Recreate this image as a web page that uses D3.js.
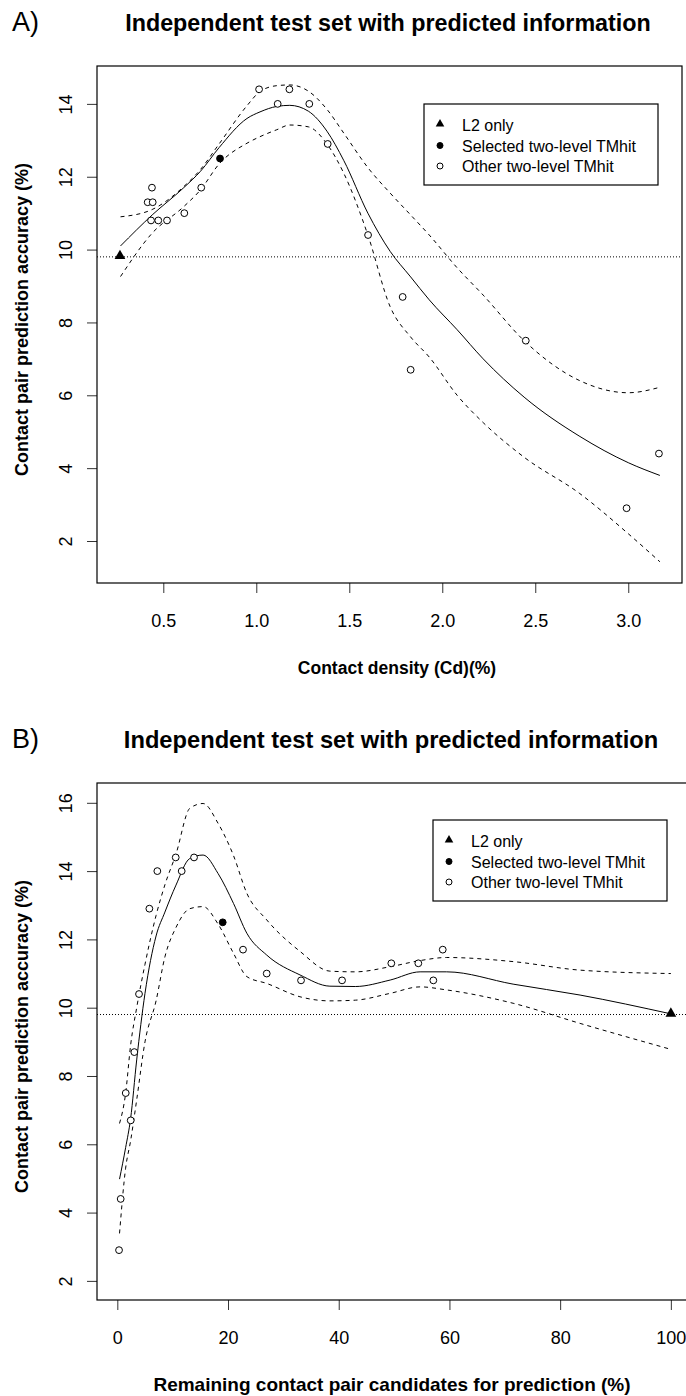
<!DOCTYPE html>
<html>
<head>
<meta charset="utf-8">
<script src="https://cdn.jsdelivr.net/npm/d3@7"></script>
<style>
  body { margin: 0; background: #fff; }
  svg { display: block; font-family: "Liberation Sans", Arial, sans-serif; }
</style>
</head>
<body>
<div id="chart"></div>
<script>
// ---- panel A: contact density vs accuracy ----
var cdA = [0.267, 0.416, 0.434, 0.439, 0.443, 0.473, 0.520, 0.613, 0.704, 0.805, 1.015,
  1.115, 1.178, 1.285, 1.384, 1.601, 1.787, 1.830, 2.449, 2.991, 3.165];
var accA = [9.8, 11.3, 10.8, 11.7, 11.3, 10.8, 10.8, 11.0, 11.7, 12.5, 14.4,
  14.0, 14.4, 14.0, 12.9, 10.4, 8.7, 6.7, 7.5, 2.9, 4.4];
var typeA = ["L2", "other", "other", "other", "other", "other", "other", "other", "other", "sel", "other",
  "other", "other", "other", "other", "other", "other", "other", "other", "other", "other"];

var gridA = [0.27, 0.44, 0.61, 0.70, 0.80, 0.95, 1.02, 1.11, 1.18, 1.28, 1.38,
  1.47, 1.60, 1.72, 1.83, 1.93, 2.08, 2.22, 2.44, 2.74, 3.00, 3.17];
var fitA = [10.1, 10.95, 11.7, 12.15, 12.8, 13.6, 13.78, 13.93, 13.96, 13.8, 13.25,
  12.45, 11.0, 9.95, 9.25, 8.62, 7.8, 7.0, 5.95, 4.87, 4.15, 3.8];
var upperA = [10.9, 11.1, 11.73, 12.2, 12.9, 13.95, 14.34, 14.5, 14.52, 14.35, 13.85,
  13.2, 12.25, 11.55, 10.95, 10.4, 9.5, 8.75, 7.5, 6.4, 6.07, 6.22];
var lowerA = [9.26, 10.45, 11.18, 11.64, 12.35, 12.92, 13.1, 13.29, 13.42, 13.37, 12.9,
  12.1, 10.4, 8.43, 7.6, 7.05, 6.0, 5.25, 4.3, 3.3, 2.2, 1.43];

// ---- panel B: remaining candidates vs accuracy ----
var remB = [100.0, 0.31, 0.61, 1.52, 2.42, 3.07, 3.92, 5.79, 7.23, 10.55, 11.63,
  13.86, 19.04, 22.71, 26.99, 33.19, 40.6, 49.5, 54.38, 57.09, 58.79];
var accB = [9.8, 2.9, 4.4, 7.5, 6.7, 8.7, 10.4, 12.9, 14.0, 14.4, 14.0,
  14.4, 12.5, 11.7, 11.0, 10.8, 10.8, 11.3, 11.3, 10.8, 11.7];
var typeB = ["L2", "other", "other", "other", "other", "other", "other", "other", "other", "other", "other",
  "other", "sel", "other", "other", "other", "other", "other", "other", "other", "other"];

var gridB = [0.4, 1.5, 2.4, 3.5, 5.0, 7.0, 8.6, 10.6, 13.1, 15.5, 18.2, 21.0,
  23.4, 27.0, 33.0, 38.4, 43.0, 49.3, 54.7, 59.5, 71.5, 83.6, 100];
var fitB = [4.98, 5.9, 6.75, 8.47, 10.42, 12.1, 12.8, 13.59, 14.37, 14.47, 13.93, 13.05,
  12.18, 11.54, 10.96, 10.63, 10.62, 10.81, 11.05, 11.05, 10.69, 10.37, 9.82];
var upperB = [6.61, 7.49, 8.9, 10.0, 11.27, 12.7, 13.6, 14.5, 15.84, 15.98, 15.4, 14.45,
  13.35, 12.57, 11.65, 11.07, 11.05, 11.2, 11.38, 11.47, 11.35, 11.1, 11.0];
var lowerB = [3.39, 5.3, 6.1, 7.3, 9.0, 10.2, 11.49, 12.35, 12.9, 12.96, 12.45, 11.59,
  10.91, 10.71, 10.32, 10.2, 10.22, 10.42, 10.61, 10.52, 10.13, 9.54, 8.78];

var baseline = 9.8;
var legendLabels = ["L2 only", "Selected two-level TMhit", "Other two-level TMhit"];
var titleText = "Independent test set with predicted information";
var yLabel = "Contact pair prediction accuracy (%)";
var ticksAx = [0.5, 1.0, 1.5, 2.0, 2.5, 3.0],
    ticksAy = [2, 4, 6, 8, 10, 12, 14],
    ticksBx = [0, 20, 40, 60, 80, 100],
    ticksBy = [2, 4, 6, 8, 10, 12, 14, 16];

var svg = d3.select("#chart")
  .append("svg")
  .attr("width", 686)
  .attr("height", 1396);

svg.append("rect").attr("width", 686).attr("height", 1396).attr("fill", "#fff");

var triangle = d3.symbol().type(d3.symbolTriangle);

function drawPanel(p) {
  var x = d3.scaleLinear().domain(p.xDomain).range([p.left, p.right]);
  var y = d3.scaleLinear().domain(p.yDomain).range([p.bottom, p.top]);
  var g = svg.append("g");

  // panel letter and title
  g.append("text")
    .attr("x", 12).attr("y", p.top - 35)
    .attr("font-size", 27)
    .text(p.letter);
  g.append("text")
    .attr("x", p.titleX).attr("y", p.top - 35)
    .attr("text-anchor", "middle")
    .attr("font-size", p.titleSize)
    .attr("font-weight", "bold")
    .text(titleText);

  // axes
  var xAxis = g.append("g")
    .attr("transform", "translate(0," + p.bottom + ")")
    .call(d3.axisBottom(x).tickValues(p.xTicks).tickSize(10).tickFormat(p.xFormat));
  xAxis.select(".domain").remove();
  xAxis.selectAll("text").attr("font-size", 18).attr("fill", "#000")
    .attr("y", 44).attr("dy", 0).attr("font-family", null);
  xAxis.selectAll("line").attr("stroke", "#333");

  var yAxis = g.append("g")
    .attr("transform", "translate(" + p.left + ",0)")
    .call(d3.axisLeft(y).tickValues(p.yTicks).tickSize(10));
  yAxis.select(".domain").remove();
  yAxis.selectAll("text").attr("font-size", 18).attr("fill", "#000")
    .attr("transform", "rotate(-90)")
    .attr("x", 0).attr("y", -25).attr("dy", 0)
    .attr("text-anchor", "middle").attr("font-family", null);
  yAxis.selectAll("line").attr("stroke", "#333");

  // frame
  g.append("rect")
    .attr("x", p.left).attr("y", p.top)
    .attr("width", p.right - p.left).attr("height", p.bottom - p.top)
    .attr("fill", "none").attr("stroke", "#000").attr("stroke-width", 1.2);

  // axis labels
  g.append("text")
    .attr("x", p.xLabelX).attr("y", p.bottom + 91)
    .attr("text-anchor", "middle")
    .attr("font-size", p.xLabelSize).attr("font-weight", "bold")
    .text(p.xLabel);
  g.append("text")
    .attr("transform", "translate(28," + ((p.top + p.bottom) / 2 - 5) + ")rotate(-90)")
    .attr("text-anchor", "middle")
    .attr("font-size", 18).attr("font-weight", "bold")
    .text(yLabel);

  // baseline accuracy
  g.append("line")
    .attr("x1", p.left).attr("x2", p.right)
    .attr("y1", y(baseline)).attr("y2", y(baseline))
    .attr("stroke", "#000").attr("stroke-width", 1)
    .attr("stroke-dasharray", "1 2");

  // fitted curve with bands
  var line = d3.line()
    .x(function(d) { return x(d[0]); })
    .y(function(d) { return y(d[1]); })
    .curve(d3.curveMonotoneX);
  [[p.upper, "4 4"], [p.lower, "4 4"], [p.fit, null]].forEach(function(c) {
    g.append("path")
      .datum(p.grid.map(function(v, i) { return [v, c[0][i]]; }))
      .attr("fill", "none")
      .attr("stroke", "#000")
      .attr("stroke-width", 1)
      .attr("stroke-dasharray", c[1])
      .attr("d", line);
  });

  // points
  var pts = p.px.map(function(v, i) { return { x: v, y: p.py[i], t: p.pt[i] }; });
  g.selectAll("circle.pt")
    .data(pts.filter(function(d) { return d.t != "L2"; }))
    .enter()
    .append("circle")
    .attr("cx", function(d) { return x(d.x); })
    .attr("cy", function(d) { return y(d.y); })
    .attr("r", 3.4)
    .attr("fill", function(d) { return d.t == "sel" ? "#000" : "#fff"; })
    .attr("stroke", "#000")
    .attr("stroke-width", 1);
  g.selectAll("path.tri")
    .data(pts.filter(function(d) { return d.t == "L2"; }))
    .enter()
    .append("path")
    .attr("d", triangle.size(50))
    .attr("transform", function(d) { return "translate(" + x(d.x) + "," + (y(d.y) - 1) + ")"; })
    .attr("fill", "#000");

  // legend
  var lg = g.append("g").attr("transform", "translate(" + p.legend[0] + "," + p.legend[1] + ")");
  lg.append("rect")
    .attr("width", 234).attr("height", 81)
    .attr("fill", "#fff").attr("stroke", "#000").attr("stroke-width", 1.2);
  legendLabels.forEach(function(lab, i) {
    var cy = 21 + i * 20.5;
    if (i == 0) {
      lg.append("path").attr("d", triangle.size(32))
        .attr("transform", "translate(16," + (cy - 1) + ")").attr("fill", "#000");
    } else {
      lg.append("circle").attr("cx", 16).attr("cy", cy).attr("r", 3)
        .attr("fill", i == 1 ? "#000" : "#fff").attr("stroke", "#000");
    }
    lg.append("text")
      .attr("x", 38).attr("y", cy + 6)
      .attr("font-size", 16)
      .text(lab);
  });
}

drawPanel({
  letter: "A)", top: 66, bottom: 583, left: 97, right: 682,
  xDomain: [0.1435, 3.289], yDomain: [0.847, 15.04],
  xTicks: ticksAx, yTicks: ticksAy, xFormat: d3.format(".1f"),
  titleX: 388, titleSize: 23.3,
  xLabel: "Contact density (Cd)(%)", xLabelX: 397, xLabelSize: 17.5,
  grid: gridA, fit: fitA, upper: upperA, lower: lowerA,
  px: cdA, py: accA, pt: typeA, legend: [424, 104]
});

drawPanel({
  letter: "B)", top: 783, bottom: 1300, left: 97, right: 693,
  xDomain: [-3.67, 104.0], yDomain: [1.44, 16.58],
  xTicks: ticksBx, yTicks: ticksBy, xFormat: d3.format("d"),
  titleX: 391, titleSize: 23.7,
  xLabel: "Remaining contact pair candidates for prediction (%)", xLabelX: 392, xLabelSize: 19,
  grid: gridB, fit: fitB, upper: upperB, lower: lowerB,
  px: remB, py: accB, pt: typeB, legend: [433, 820]
});
</script>
</body>
</html>
